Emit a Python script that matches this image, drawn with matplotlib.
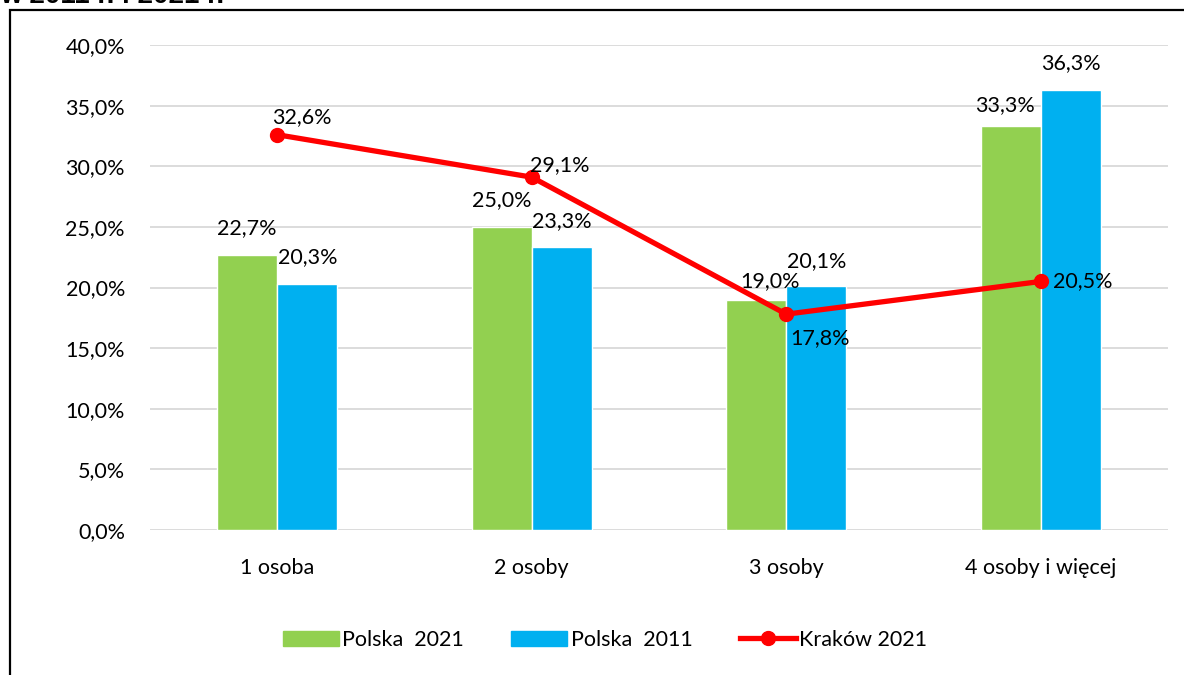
import numpy as np
import matplotlib.pyplot as plt
from matplotlib.patches import Rectangle
from matplotlib.lines import Line2D
from matplotlib.ticker import FuncFormatter

plt.rcParams['font.family'] = ['Lato', 'DejaVu Sans']

categories = ['1 osoba', '2 osoby', '3 osoby', '4 osoby i więcej']
polska_2021 = [22.7, 25.0, 19.0, 33.3]
polska_2011 = [20.3, 23.3, 20.1, 36.3]
krakow_2021 = [32.6, 29.1, 17.8, 20.5]

GREEN = '#92D050'
BLUE = '#00B0F0'
RED = '#FF0000'

# label offsets in points (dx, dy) as placed in the original
off_2021 = [(0, 19), (0, 19), (10, 13), (-4, 15)]
off_2011 = [(0, 19), (0, 19), (0, 18), (0, 19)]
off_krk = [(18, 13), (20, 9), (24, -17), (30, 0)]

FS = 15.5

fig = plt.figure(figsize=(11.84, 6.75), dpi=100)
ax = fig.add_axes([150 / 1184, 1 - 530 / 675, 1018 / 1184, 485 / 675])

x = np.arange(len(categories))
w = 0.236
ax.bar(x - w / 2, polska_2021, w, color=GREEN, edgecolor='white', linewidth=1, zorder=2)
ax.bar(x + w / 2, polska_2011, w, color=BLUE, edgecolor='white', linewidth=1, zorder=2)
ax.plot(x, krakow_2021, '-o', color=RED, linewidth=3.8, markersize=10, zorder=4)

fmt = lambda v: f'{v:.1f}%'.replace('.', ',')
for xi, v, o in zip(x - w / 2, polska_2021, off_2021):
    ax.annotate(fmt(v), (xi, v), xytext=o, textcoords='offset points',
                ha='center', va='center', fontsize=FS, zorder=5)
for xi, v, o in zip(x + w / 2, polska_2011, off_2011):
    ax.annotate(fmt(v), (xi, v), xytext=o, textcoords='offset points',
                ha='center', va='center', fontsize=FS, zorder=5)
for xi, v, o in zip(x, krakow_2021, off_krk):
    ax.annotate(fmt(v), (xi, v), xytext=o, textcoords='offset points',
                ha='center', va='center', fontsize=FS, zorder=5)

ax.set_xlim(-0.5, len(categories) - 0.5)
ax.set_ylim(0, 40)
ax.set_yticks(np.arange(0, 41, 5))
ax.yaxis.set_major_formatter(FuncFormatter(lambda v, p: f'{v:.1f}%'.replace('.', ',')))
ax.set_xticks(x)
ax.set_xticklabels(categories)
ax.tick_params(axis='both', length=0, labelsize=FS, colors='black')
ax.tick_params(axis='y', pad=18)
ax.tick_params(axis='x', pad=20)
ax.grid(axis='y', color='#D9D9D9', linewidth=1.3, zorder=0)
ax.set_axisbelow(True)
for s in ax.spines.values():
    s.set_visible(False)

handles = [Rectangle((0, 0), 1, 1, color=GREEN),
           Rectangle((0, 0), 1, 1, color=BLUE),
           Line2D([0], [0], color=RED, linewidth=3.8, marker='o', markersize=10)]
fig.legend(handles, ['Polska  2021', 'Polska  2011', 'Kraków 2021'],
           loc='center', bbox_to_anchor=(605 / 1184, 1 - 640 / 675), ncol=3,
           frameon=False, fontsize=FS, handlelength=2.6, handletextpad=0.15,
           columnspacing=2.2)

# outer frame of the original figure box
fig.add_artist(Rectangle((10 / 1184, -0.1), 1.2, 1 - 10 / 675 + 0.1,
                         transform=fig.transFigure, fill=False,
                         edgecolor='black', linewidth=1.6))
# cut-off heading above the frame
fig.text(0, 1 + 4 / 675, 'w 2011 r. i 2021 r.', fontsize=20, fontweight='bold',
         family='Liberation Sans', ha='left', va='center')

fig.savefig('out.png', dpi=100)
